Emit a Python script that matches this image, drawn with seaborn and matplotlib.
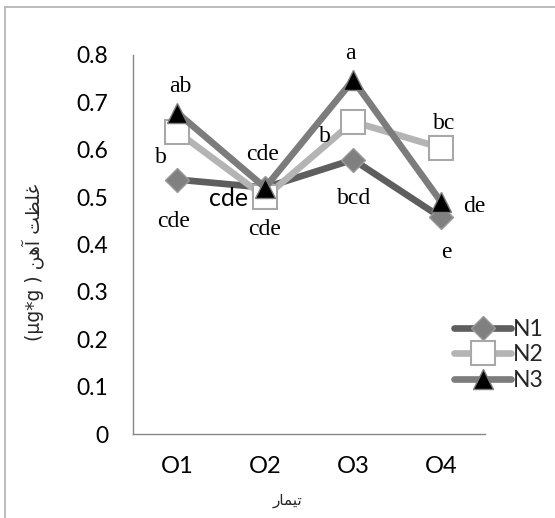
import matplotlib
matplotlib.use("Agg")
import matplotlib.pyplot as plt
from matplotlib.lines import Line2D
import seaborn as sns
import pandas as pd

categories = ["O1", "O2", "O3", "O4"]
n1 = [0.537, 0.52, 0.579, 0.457]
n2 = [0.638, 0.50, 0.659, 0.604]
n3 = [0.678, 0.52, 0.747, 0.49]
series_names = ["N1", "N2", "N3"]
y_ticks = [0, 0.1, 0.2, 0.3, 0.4, 0.5, 0.6, 0.7, 0.8]

# letter annotations: (text, x position, y value)
ann_texts = ["ab", "b", "cde", "cde", "cde", "a", "b", "bcd", "bc", "de", "e"]
ann_x = [0.04, -0.18, -0.04, 0.97, 0.99, 1.97, 1.68, 2.01, 3.03, 3.38, 3.06]
ann_y = [0.733, 0.583, 0.448, 0.589, 0.432, 0.804, 0.627, 0.497, 0.655, 0.48, 0.383]
big_text = "cde"
big_x, big_y = 0.58, 0.497

x_label = "\uFEAD\uFE8E\uFEE4\uFEF4\uFE97"  # تیمار (shaped, visual order)
y_label = "(\u00b5g*g ) \uFEE6\uFEEB\uFE81 \uFE96\uFEC8\uFEE0\uFECF"  # غلظت آهن ( µg*g)

sns.set_theme(style="white")
plt.rcParams["font.family"] = ["Lato", "DejaVu Sans"]

df = pd.DataFrame({
    "cat": categories * 3,
    "val": n1 + n2 + n3,
    "series": [s for s in series_names for _ in categories],
})

fig = plt.figure(figsize=(5.55, 5.18), dpi=100)
ax = fig.add_axes([0.240, 0.162, 0.634, 0.732])

styles = {
    "N1": dict(color="#5e5e5e", marker="D", markersize=12.5, markerfacecolor="#808080",
               markeredgecolor="#9a9a9a", markeredgewidth=1.0),
    "N2": dict(color="#b4b4b4", marker="s", markersize=17, markerfacecolor="white",
               markeredgecolor="#a8a8a8", markeredgewidth=1.5),
    "N3": dict(color="#7c7c7c", marker="^", markersize=14.5, markerfacecolor="black",
               markeredgecolor="#7c7c7c", markeredgewidth=1.0),
}
zorders = {"N1": 3, "N2": 4, "N3": 5}
for s in series_names:
    sub = df[df["series"] == s]
    sns.lineplot(data=sub, x="cat", y="val", ax=ax, linewidth=4.8,
                 solid_capstyle="round", label=s, zorder=zorders[s], **styles[s])

ax.set_xlim(-0.5, 3.5)
ax.set_ylim(0, 0.8)
ax.set_yticks(y_ticks)
ax.set_yticklabels(["0" if t == 0 else f"{t:.1f}" for t in y_ticks])
ax.set_xticks([0, 1, 2, 3])
ax.set_xticklabels(categories)
ax.set_xticks([-0.5, 0.5, 1.5, 2.5, 3.5], minor=True)
ax.tick_params(axis="x", which="major", length=0, pad=16, labelsize=17, colors="black")
ax.tick_params(axis="x", which="minor", length=6.5, width=1, color="#878787", direction="out")
ax.tick_params(axis="y", length=6, width=1, color="#878787", direction="out", pad=12,
               labelsize=16.5, colors="black")
for side in ["top", "right"]:
    ax.spines[side].set_visible(False)
for side in ["left", "bottom"]:
    ax.spines[side].set_color("#878787")
    ax.spines[side].set_linewidth(1.0)
ax.set_xlabel("")
ax.set_ylabel("")

for t, x, y in zip(ann_texts, ann_x, ann_y):
    ax.text(x, y, t, ha="center", va="center", fontsize=17,
            family=["Liberation Serif", "DejaVu Serif"], color="black", zorder=10)
ax.text(big_x, big_y, big_text, ha="center", va="center", fontsize=18,
        family=["Lato", "DejaVu Sans"], color="black", zorder=10)

handles = ax.get_lines()[:3]
leg = fig.legend(handles=handles, labels=series_names, loc="center left",
                 bbox_to_anchor=(0.818, 0.315), frameon=False, fontsize=16.5,
                 handlelength=2.5, handletextpad=0.05, labelspacing=0.2,
                 borderpad=0, borderaxespad=0)
if ax.get_legend():
    ax.get_legend().remove()

fig.text(287 / 555, 1 - 500 / 518, x_label, ha="center", va="center", fontsize=11,
         family=["DejaVu Sans"])
fig.text(33 / 555, 1 - 262 / 518, y_label, ha="center", va="center", fontsize=13.5,
         rotation=90, family=["DejaVu Sans"])

# outer frame (left and top)
fig.add_artist(Line2D([5 / 555, 5 / 555], [0, 1 - 7 / 518], transform=fig.transFigure,
                      color="#b0b0b0", linewidth=1.2))
fig.add_artist(Line2D([5 / 555, 1], [1 - 7 / 518, 1 - 7 / 518], transform=fig.transFigure,
                      color="#b0b0b0", linewidth=1.2))

fig.savefig("out.png", dpi=100)
